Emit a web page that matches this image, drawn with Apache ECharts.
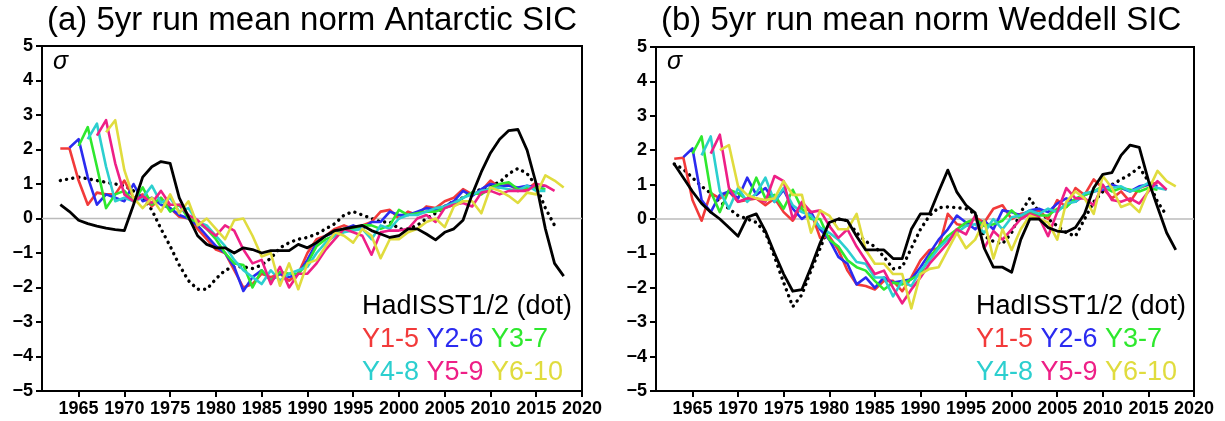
<!DOCTYPE html>
<html>
<head>
<meta charset="utf-8">
<script src="https://cdn.jsdelivr.net/npm/echarts@6/dist/echarts.min.js"></script>
<style>
  html, body { margin: 0; padding: 0; background: #fff; }
  #chart { width: 1225px; height: 421px; }
</style>
</head>
<body>
<div id="chart"></div>
<script>
// tick labels
const xTicks = [1965, 1970, 1975, 1980, 1985, 1990, 1995, 2000, 2005, 2010, 2015, 2020];

// (a) Antarctic SIC, each array starts at the year given next to it
const aRedStart = 1963;
const aRed = [2.03, 2.03, 1.1, 0.4, 0.75, 0.7, 0.7, 1.1, 0.6, 0.7,
  0.35, 0.6, 0.3, 0.05, 0.0, -0.3, -0.6, -0.9, -1.0, -1.5,
  -2.0, -1.9, -1.6, -1.7, -1.6, -1.8, -1.6, -1.0, -0.6, -0.5,
  -0.3, -0.2, -0.3, -0.2, -0.1, 0.2, 0.25, 0.0, 0.2, 0.1,
  0.35, 0.3, 0.5, 0.6, 0.85, 0.7, 0.8, 1.1, 0.9, 1.0,
  0.8, 0.85, 1.05];
const aBlueStart = 1964;
const aBlue = [2.05, 2.3, 1.2, 0.4, 0.7, 0.6, 0.5, 1.0, 0.5, 0.6,
  0.4, 0.3, 0.1, 0.0, -0.2, -0.5, -0.8, -1.0, -1.4, -2.1,
  -1.7, -1.5, -1.8, -1.6, -1.7, -1.6, -1.2, -0.7, -0.5, -0.4,
  -0.3, -0.2, -0.3, -0.1, -0.1, 0.2, 0.1, 0.1, 0.2, 0.3,
  0.25, 0.35, 0.5, 0.8, 0.65, 0.85, 1.0, 0.95, 0.95, 0.9,
  0.95, 0.9, 0.95];
const aGreenStart = 1965;
const aGreen = [2.1, 2.65, 1.5, 0.3, 0.7, 0.8, 0.5, 0.9, 0.4, 0.6,
  0.2, 0.4, 0.0, -0.1, -0.3, -0.6, -1.0, -1.3, -1.35, -2.0,
  -1.5, -1.8, -1.55, -1.6, -1.6, -1.3, -0.8, -0.6, -0.5, -0.3,
  -0.3, -0.2, -0.2, -0.3, -0.2, 0.25, 0.1, 0.15, 0.2, 0.2,
  0.3, 0.4, 0.6, 0.75, 0.7, 0.9, 1.0, 1.05, 0.85, 0.9,
  0.9, 0.85];
const aCyanStart = 1966;
const aCyan = [2.3, 2.75, 1.5, 0.5, 0.6, 0.5, 0.6, 0.95, 0.45, 0.6,
  0.2, 0.3, -0.1, -0.2, -0.5, -0.8, -1.2, -1.5, -1.7, -1.9,
  -1.5, -1.8, -1.6, -1.5, -1.4, -1.0, -0.7, -0.5, -0.4, -0.35,
  -0.3, -0.6, -0.2, -0.3, 0.0, 0.1, 0.1, 0.2, 0.3, 0.35,
  0.45, 0.6, 0.7, 0.8, 0.85, 0.9, 0.85, 0.8, 0.95, 0.8,
  0.8];
const aMagentaStart = 1967;
const aMagenta = [2.4, 2.85, 1.6, 0.7, 0.5, 0.65, 0.45, 0.8, 0.4, 0.4,
  0.1, -0.05, -0.3, -0.5, -0.2, -0.35, -0.9, -1.3, -1.2, -1.9,
  -1.4, -2.0, -1.6, -1.6, -1.3, -0.9, -0.6, -0.3, -0.4, -0.5,
  -1.05, -0.4, -0.35, -0.35, -0.3, 0.0, 0.1, -0.1, 0.3, 0.4,
  0.45, 0.35, 0.75, 0.8, 0.7, 0.8, 0.8, 0.8, 1.0, 0.95,
  0.8];
const aYellowStart = 1968;
const aYellow = [2.5, 2.85, 1.4, 0.6, 0.3, 0.6, 0.2, 0.7, 0.15, 0.5,
  -0.2, 0.0, -0.3, -0.6, -0.05, 0.0, -0.5, -1.1, -1.0, -1.95,
  -1.3, -2.05, -1.3, -1.2, -0.8, -0.4, -0.5, -0.7, -0.3, -0.5,
  -1.15, -0.6, -0.6, -0.4, -0.3, -0.1, 0.0, -0.25, 0.35, 0.5,
  0.5, 0.15, 0.9, 0.8, 0.65, 0.45, 0.75, 0.7, 1.25, 1.1,
  0.9];
const aObsStart = 1963;
const aObs = [0.4, 0.2, -0.05, -0.15, -0.22, -0.28, -0.32, -0.35, 0.4, 1.2,
  1.5, 1.65, 1.6, 0.6, 0.05, -0.5, -0.75, -0.85, -0.85, -1.0,
  -0.85, -0.9, -1.0, -0.93, -0.93, -0.93, -0.75, -0.85, -0.7, -0.5,
  -0.35, -0.3, -0.25, -0.2, -0.35, -0.45, -0.55, -0.5, -0.3, -0.3,
  -0.45, -0.62, -0.4, -0.3, -0.05, 0.7, 1.35, 1.9, 2.3, 2.55,
  2.58, 1.98, 1.0, -0.3, -1.3, -1.67];
const aHadStart = 1963;
const aHad = [1.1, 1.15, 1.2, 1.15, 1.1, 1.05, 1.0, 0.95, 0.8, 0.6,
  0.25, -0.3, -0.8, -1.35, -1.8, -2.05, -2.05, -1.75, -1.5, -1.4,
  -1.4, -1.45, -1.35, -1.15, -0.85, -0.7, -0.6, -0.55, -0.45, -0.3,
  -0.15, 0.1, 0.2, 0.1, 0.0, -0.1, -0.1, -0.3, -0.3, -0.2,
  0.0, 0.15, 0.35, 0.5, 0.6, 0.75, 0.85, 0.95, 1.05, 1.3,
  1.45, 1.3, 0.95, 0.3, -0.2];

// (b) Weddell SIC
const bRedStart = 1963;
const bRed = [1.75, 1.78, 0.55, -0.05, 0.75, 0.6, 0.8, 0.5, 0.55, 0.6,
  0.4, 0.6, 0.2, -0.05, 0.4, 0.2, -0.55, -0.5, -0.9, -1.5,
  -1.9, -1.95, -2.05, -1.8, -1.8, -2.1, -1.7, -1.2, -0.9, -0.85,
  0.15, -0.15, -0.2, 0.05, -0.1, 0.3, 0.4, 0.0, 0.15, 0.2,
  0.25, 0.0, 0.55, 0.35, 0.9, 0.7, 1.15, 0.9, 0.6, 0.8,
  0.5, 0.9, 1.0, 1.05];
const bBlueStart = 1964;
const bBlue = [1.8, 2.05, 0.55, 0.2, 0.7, 0.8, 0.6, 1.2, 0.7, 0.9,
  0.5, 0.85, 0.3, 0.0, 0.2, -0.3, -0.6, -1.1, -1.3, -1.9,
  -1.7, -2.0, -1.7, -1.85, -1.8, -1.75, -1.4, -1.0, -0.6, -0.3,
  0.1, -0.1, -0.3, -0.05, -0.3, 0.25, 0.2, 0.1, 0.25, 0.3,
  0.2, 0.45, 0.6, 0.5, 0.7, 0.8, 0.85, 1.0, 0.9, 0.8,
  0.95, 1.0, 0.95];
const bGreenStart = 1965;
const bGreen = [1.9, 2.4, 0.8, 0.2, 0.85, 0.75, 0.55, 1.2, 0.6, 0.7,
  0.3, 0.85, 0.3, 0.0, 0.0, -0.6, -0.8, -1.2, -1.4, -1.5,
  -1.8, -2.05, -1.85, -1.9, -1.75, -1.6, -1.1, -0.8, -0.5, -0.3,
  -0.1, 0.0, -0.2, -0.15, -0.05, 0.25, 0.0, 0.2, 0.1, 0.1,
  0.3, 0.35, 0.6, 0.7, 0.8, 0.95, 0.8, 0.9, 0.85, 0.8,
  0.9, 0.85];
const bCyanStart = 1966;
const bCyan = [1.85, 2.4, 0.8, 0.3, 0.9, 0.5, 0.75, 1.2, 0.5, 0.9,
  0.4, 0.2, 0.1, -0.25, -0.4, -0.6, -0.9, -1.25, -1.3, -1.7,
  -1.7, -2.25, -1.8, -1.95, -1.5, -1.2, -0.85, -0.6, -0.4, -0.2,
  -0.15, -0.4, 0.0, -0.3, 0.05, 0.1, 0.25, 0.15, 0.3, 0.2,
  0.45, 0.5, 0.75, 0.8, 0.9, 0.9, 0.95, 0.8, 0.9, 1.05,
  0.9, 0.85];
const bMagentaStart = 1967;
const bMagenta = [1.9, 2.45, 0.9, 0.5, 0.6, 0.6, 0.5, 1.25, 1.1, 0.0,
  0.5, 0.2, 0.25, -0.2, -0.55, -0.3, -0.8, -1.2, -1.6, -1.5,
  -2.0, -2.45, -2.05, -1.7, -1.3, -1.0, -0.7, -0.3, -0.45, 0.1,
  -0.85, -0.35, -0.6, -0.3, 0.0, 0.15, 0.05, -0.5, 0.2, 0.9,
  0.6, 0.6, 0.4, 1.0, 0.55, 0.5, 0.6, 0.45, 0.8, 1.1,
  0.85];
const bYellowStart = 1968;
const bYellow = [2.0, 2.15, 0.95, 0.7, 0.6, 0.55, 0.6, 1.1, 0.7, 0.7,
  -0.4, 0.25, 0.1, -0.3, -0.3, 0.15, -0.9, -1.3, -1.3, -1.6,
  -1.6, -2.6, -1.6, -1.45, -1.4, -0.9, -0.4, -0.85, -0.6, -0.05,
  -1.15, -0.3, -0.9, -0.3, 0.1, 0.0, -0.1, -0.6, 0.5, 0.8,
  0.6, 0.15, 1.25, 0.9, 0.35, 0.45, 0.2, 0.85, 1.4, 1.1,
  0.95];
const bObsStart = 1963;
const bObs = [1.6, 1.2, 0.8, 0.45, 0.2, 0.0, -0.25, -0.5, 0.05, 0.15,
  -0.35, -1.0, -1.6, -2.1, -2.05, -1.4, -0.7, -0.1, 0.0, -0.05,
  -0.5, -0.9, -0.9, -0.9, -1.15, -1.15, -0.3, 0.15, 0.15, 0.8,
  1.42, 0.78, 0.4, 0.18, -0.85, -1.4, -1.4, -1.55, -0.6, 0.0,
  0.0, -0.25, -0.35, -0.38, -0.25, 0.15, 0.9, 1.3, 1.35, 1.85,
  2.15, 2.08, 1.12, 0.35, -0.4, -0.9];
const bHadStart = 1963;
const bHad = [1.6, 1.45, 1.2, 0.95, 0.75, 0.5, 0.3, 0.1, 0.0, -0.1,
  -0.4, -1.1, -1.85, -2.55, -2.2, -1.5, -0.85, -0.2, 0.0, -0.05,
  -0.4, -0.65, -0.8, -1.1, -1.45, -1.4, -0.85, -0.3, 0.1, 0.33,
  0.35, 0.33, 0.3, 0.15, -0.5, -0.65, -0.72, -0.4, 0.2, 0.6,
  0.2, 0.0, -0.2, -0.4, -0.5, 0.0, 0.5, 0.8, 1.0, 1.15,
  1.3, 1.5, 1.1, 0.5, 0.1];

const colors = {
  red: '#f23a3a', blue: '#2b2bf0', green: '#2ee82e',
  cyan: '#2ccfcf', magenta: '#ee1f86', yellow: '#e0dc3e'
};
const FONT = '"Liberation Sans", Arial, Helvetica, sans-serif';

const pts = (start, arr) => arr.map((v, i) => [start + i, v]);

function panelSeries(idx, p) {
  const base = { type: 'line', xAxisIndex: idx, yAxisIndex: idx, symbol: 'none', silent: true, animation: false };
  const model = (name, color, start, arr) => ({
    ...base, name, data: pts(start, arr),
    lineStyle: { color, width: 2.6, join: 'round' }
  });
  return [
    { ...base, name: 'zero' + idx, data: [[1961, 0], [2020, 0]], lineStyle: { color: '#bbbbbb', width: 1.5 } },
    { ...base, name: 'HadISST' + idx, data: pts(p.hadStart, p.had),
      lineStyle: { color: '#000', width: 3.4, type: [0.1, 6.2], cap: 'round' } },
    model('Y1-5', colors.red, p.redStart, p.red),
    model('Y2-6', colors.blue, p.blueStart, p.blue),
    model('Y3-7', colors.green, p.greenStart, p.green),
    model('Y4-8', colors.cyan, p.cyanStart, p.cyan),
    model('Y5-9', colors.magenta, p.magentaStart, p.magenta),
    model('Y6-10', colors.yellow, p.yellowStart, p.yellow),
    { ...base, name: 'obs' + idx, data: pts(p.obsStart, p.obs),
      lineStyle: { color: '#000', width: 2.8, join: 'round' } }
  ];
}

function xAxisCfg(idx) {
  return {
    gridIndex: idx, type: 'value', min: 1961, max: 2020,
    axisLine: { onZero: false, lineStyle: { color: '#000', width: 2 } },
    axisTick: { length: 6, customValues: xTicks, lineStyle: { color: '#000', width: 2 } },
    axisLabel: {
      customValues: xTicks, color: '#000', fontWeight: 'bold', fontSize: 18, margin: 9, fontFamily: FONT,
      formatter: v => String(v)
    },
    splitLine: { show: false }
  };
}

function yAxisCfg(idx) {
  return {
    gridIndex: idx, type: 'value', min: -5, max: 5, interval: 1,
    axisLine: { onZero: false, lineStyle: { color: '#000', width: 2 } },
    axisTick: { length: 6, lineStyle: { color: '#000', width: 2 } },
    axisLabel: {
      color: '#000', fontWeight: 'bold', fontSize: 18, margin: 9, fontFamily: FONT,
      formatter: v => String(v).replace('-', '\u2212')
    },
    splitLine: { show: false }
  };
}

function texts(left, title) {
  const legendFont = '27px ' + FONT;
  return [
    { type: 'text', x: left + 5, y: 21,
      style: { text: title, font: '33px ' + FONT, fill: '#000', textVerticalAlign: 'middle', verticalAlign: 'middle' } },
    { type: 'text', x: left + 11, y: 62,
      style: { text: '\u03c3', font: 'italic 25px ' + FONT, fill: '#000', textVerticalAlign: 'middle', verticalAlign: 'middle' } },
    { type: 'text', x: left + 320, y: 307,
      style: { text: 'HadISST1/2 (dot)', font: legendFont, fill: '#000', textVerticalAlign: 'middle', verticalAlign: 'middle' } },
    { type: 'text', x: left + 320, y: 340,
      style: {
        text: '{r|Y1-5} {b|Y2-6} {g|Y3-7}', font: legendFont, fill: '#000',
        textVerticalAlign: 'middle', verticalAlign: 'middle',
        rich: {
          r: { fill: colors.red, font: legendFont },
          b: { fill: colors.blue, font: legendFont },
          g: { fill: colors.green, font: legendFont }
        }
      } },
    { type: 'text', x: left + 320, y: 373,
      style: {
        text: '{c|Y4-8} {m|Y5-9} {y|Y6-10}', font: legendFont, fill: '#000',
        textVerticalAlign: 'middle', verticalAlign: 'middle',
        rich: {
          c: { fill: colors.cyan, font: legendFont },
          m: { fill: colors.magenta, font: legendFont },
          y: { fill: colors.yellow, font: legendFont }
        }
      } }
  ];
}

const panelA = {
  redStart: aRedStart, red: aRed, blueStart: aBlueStart, blue: aBlue,
  greenStart: aGreenStart, green: aGreen, cyanStart: aCyanStart, cyan: aCyan,
  magentaStart: aMagentaStart, magenta: aMagenta, yellowStart: aYellowStart, yellow: aYellow,
  obsStart: aObsStart, obs: aObs, hadStart: aHadStart, had: aHad
};
const panelB = {
  redStart: bRedStart, red: bRed, blueStart: bBlueStart, blue: bBlue,
  greenStart: bGreenStart, green: bGreen, cyanStart: bCyanStart, cyan: bCyan,
  magentaStart: bMagentaStart, magenta: bMagenta, yellowStart: bYellowStart, yellow: bYellow,
  obsStart: bObsStart, obs: bObs, hadStart: bHadStart, had: bHad
};

const chart = echarts.init(document.getElementById('chart'), null, { renderer: 'canvas' });
chart.setOption({
  backgroundColor: '#fff',
  animation: false,
  grid: [
    { left: 42, top: 46, width: 540, height: 345, show: true, borderColor: '#000', borderWidth: 2 },
    { left: 656, top: 47, width: 538, height: 344, show: true, borderColor: '#000', borderWidth: 2 }
  ],
  xAxis: [xAxisCfg(0), xAxisCfg(1)],
  yAxis: [yAxisCfg(0), yAxisCfg(1)],
  series: [...panelSeries(0, panelA), ...panelSeries(1, panelB)],
  graphic: [
    ...texts(42, '(a) 5yr run mean norm Antarctic SIC'),
    ...texts(656, '(b) 5yr run mean norm Weddell SIC')
  ]
});
</script>
</body>
</html>
